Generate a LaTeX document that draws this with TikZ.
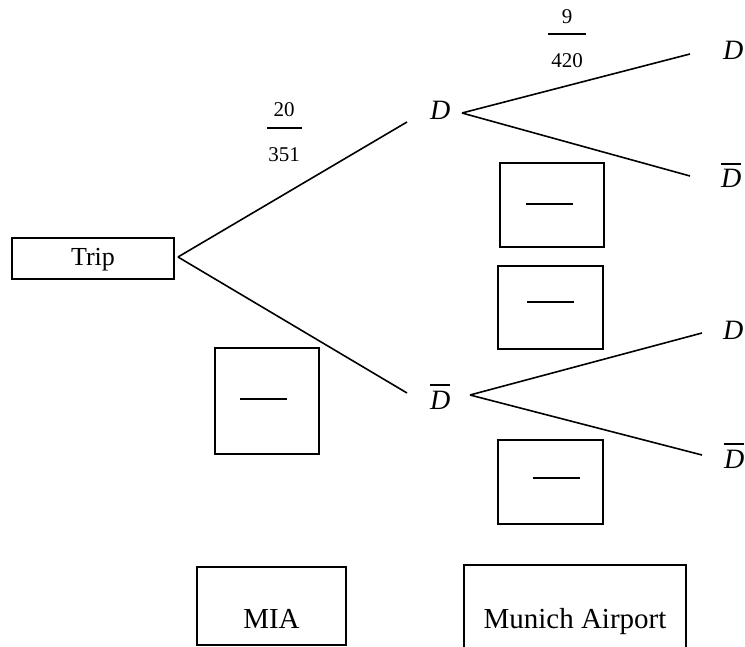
\documentclass[tikz,border=0pt]{standalone}
\usepackage{fontspec}
\setmainfont{Liberation Serif}
\newcommand{\dbar}{\leavevmode\vbox{\hrule height 1.4pt \kern 5pt \hbox{\textit{D}}}}
\begin{document}
\begin{tikzpicture}[x=1pt,y=-1pt,
  edge/.style={line width=1.6pt},
  box/.style={draw,line width=1.6pt,inner sep=0pt},
  blankline/.style={line width=1.6pt},
  lbl/.style={anchor=base,inner sep=0pt,font=\fontsize{29}{30}\selectfont},
  tlbl/.style={anchor=base,inner sep=0pt,font=\fontsize{26}{28}\selectfont},
  dl/.style={anchor=base west,inner sep=0pt,font=\fontsize{28}{30}\selectfont},
  frac/.style={anchor=base,inner sep=0pt,font=\fontsize{21}{22}\selectfont},
  fbar/.style={line width=1.2pt}]
\clip (0,0) rectangle (745,647);
% Trip box
\node[box,minimum width=162pt,minimum height=41pt] (trip) at (93,258.5) {};
\node[tlbl] (triptext) at (93,266) {Trip};
% tree coordinates
\coordinate (o1) at (178,257);
\coordinate (e1) at (407,122);
\coordinate (e2) at (407,393);
\coordinate (o2) at (462,113);
\coordinate (o3) at (470,395);
\coordinate (f1) at (690,54);
\coordinate (f2) at (690,176);
\coordinate (f3) at (702,333);
\coordinate (f4) at (702,455);
% labels
\node[dl] (dA) at (430,120) {\textit{D}};
\node[dl] (dB) at (430,409) {\dbar};
\node[dl] (d1) at (723,60) {\textit{D}};
\node[dl] (d2) at (721,188) {\dbar};
\node[dl] (d3) at (723,340) {\textit{D}};
\node[dl] (d4) at (724,468) {\dbar};
% branches
\draw[edge] (o1) -- (e1);
\draw[edge] (o1) -- (e2);
\draw[edge] (o2) -- (f1);
\draw[edge] (o2) -- (f2);
\draw[edge] (o3) -- (f3);
\draw[edge] (o3) -- (f4);
% fractions
\node[frac] (n20) at (284,117) {20};
\draw[fbar] (267,128) -- (302,128);
\node[frac] (n351) at (284,162) {351};
\node[frac] (n9) at (567,24) {9};
\draw[fbar] (548,34) -- (586,34);
\node[frac] (n420) at (567,68) {420};
% answer boxes
\node[box,minimum width=104pt,minimum height=84pt] (bA) at (552,205) {};
\draw[blankline] (526,204) -- (573,204);
\node[box,minimum width=105pt,minimum height=83pt] (bB) at (550.5,307.5) {};
\draw[blankline] (527,302) -- (574,302);
\node[box,minimum width=105pt,minimum height=84pt] (bC) at (550.5,482) {};
\draw[blankline] (533,478) -- (580,478);
\node[box,minimum width=104pt,minimum height=106pt] (bD) at (267,401) {};
\draw[blankline] (240,399) -- (287,399);
% bottom boxes
\node[box,minimum width=149pt,minimum height=78pt] (mia) at (271.5,606) {};
\node[lbl] (miatext) at (271.5,628) {MIA};
\node[box,minimum width=222pt,minimum height=90pt] (mun) at (575,610) {};
\node[lbl] (muntext) at (575,628) {Munich Airport};
\end{tikzpicture}
\end{document}
